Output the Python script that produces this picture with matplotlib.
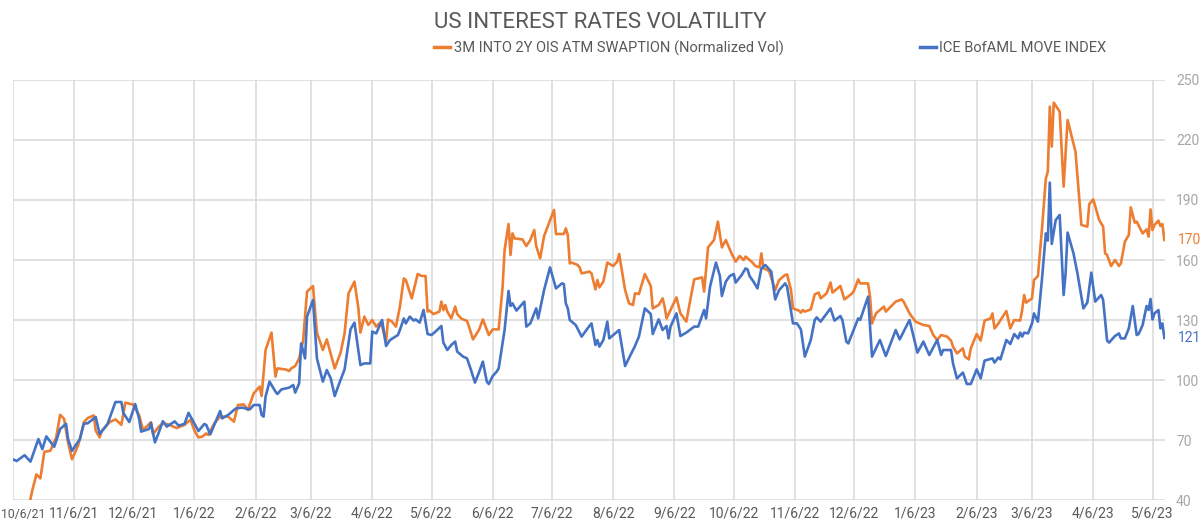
import numpy as np
import pandas as pd
import matplotlib
matplotlib.use("Agg")
import matplotlib.pyplot as plt
import matplotlib.dates as mdates
from matplotlib import font_manager as fm
from matplotlib.lines import Line2D

# ---------------- data ----------------
START = "2021-10-06"  # day offsets below are days since this date

swaption_day = [8, 10, 12, 14, 16, 19, 22, 24, 26, 28, 30, 33, 34, 36, 38, 41, 42, 44, 45, 49,
                52, 55, 56, 57, 60, 61, 64, 66, 70, 71, 74, 76, 79, 83, 87, 90, 92, 94, 96, 98,
                99, 102, 105, 109, 112, 114, 117, 119, 122, 125, 126, 128, 131, 133, 134, 138, 140, 141, 143, 145,
                147, 149, 152, 154, 157, 159, 163, 166, 168, 170, 173, 175, 176, 178, 180, 182, 184, 186, 187, 189,
                190, 192, 194, 196, 198, 199, 202, 205, 207, 209, 210, 211, 213, 216, 217, 218, 219, 220, 222, 224,
                225, 227, 230, 231, 233, 236, 238, 241, 243, 246, 248, 249, 251, 252, 253, 254, 258, 260, 262, 264,
                265, 267, 269, 274, 275, 279, 280, 281, 282, 283, 286, 287, 288, 292, 293, 295, 296, 297, 299, 301,
                304, 306, 307, 310, 312, 314, 315, 317, 320, 323, 324, 327, 329, 330, 331, 336, 338, 341, 343, 345,
                349, 350, 352, 355, 357, 359, 361, 363, 364, 366, 368, 370, 371, 374, 376, 378, 379, 380, 382, 383,
                386, 388, 391, 392, 394, 395, 398, 399, 400, 401, 404, 406, 408, 409, 411, 412, 414, 415, 419, 421,
                425, 426, 428, 429, 433, 434, 435, 437, 441, 442, 447, 450, 451, 454, 457, 461, 464, 466, 468, 470,
                473, 475, 476, 478, 481, 482, 484, 485, 488, 490, 492, 495, 496, 497, 499, 503, 505, 507, 510, 511,
                512, 513, 516, 517, 519, 521, 523, 524, 525, 526, 527, 530, 532, 534, 538, 541, 544, 545, 547, 550,
                552, 553, 554, 556, 558, 560, 561, 563, 565, 566, 568, 569, 572, 574, 575, 576, 577, 578, 580, 581,
                582, 583]
swaption_vol = [36, 45.2, 52.8, 50.8, 64.1, 64.6, 71.3, 82.6, 80.6, 68.8, 60.4, 67.1, 70.5, 78.9, 81, 82.3, 74.7, 71.3, 74.4, 78.9,
                80.3, 77.6, 83.1, 88.7, 87.9, 87.7, 82.3, 75, 78.9, 73, 76.7, 78.4, 77.7, 76, 77.6, 80.1, 74.7, 71.3, 71.7, 73.3,
                72.5, 78.3, 81.7, 81.7, 79.2, 87.5, 87.8, 85, 93.3, 96.7, 92, 115, 123.7, 101.7, 105.8, 105.3, 104.5, 105.8, 107, 110.8,
                119.7, 144.2, 147, 123.7, 115, 120.3, 105.8, 113.7, 123.3, 143.3, 149.2, 135.8, 123.7, 131.7, 127.5, 130, 126.7, 128.7, 126.7, 119.2,
                130.3, 129.2, 126.7, 136.7, 150.8, 150, 140.8, 153, 152, 152, 134.2, 134.7, 133, 134.2, 139.2, 135, 137.5, 134.2, 130.8, 136.7,
                133, 130.8, 129.5, 126.7, 120.3, 125, 130.3, 122.5, 125.3, 125.3, 146.7, 165, 178, 162.5, 173.3, 170.8, 170.3, 167, 170, 175,
                167, 160.8, 172, 185, 173, 173, 175.8, 172.5, 158.3, 158.7, 157.5, 156.3, 153.3, 154.2, 153.3, 145.3, 150, 146.3, 149.2, 158.7,
                157, 159.2, 163, 145, 138.3, 137.5, 143.3, 143, 153, 147, 135.8, 137.5, 140.8, 136.7, 130.8, 141.3, 133.3, 129.2, 140, 150.3,
                151.3, 144.2, 166.3, 170, 179.2, 166.3, 170, 165.3, 163, 159.2, 162, 160, 161.7, 159.2, 157, 156.3, 163.3, 155.8, 155, 154.2,
                145, 150, 152.5, 152.8, 145, 135.8, 134.7, 133.7, 135, 134.2, 135.3, 142.8, 143.7, 140.8, 142.5, 143.3, 148.7, 143.7, 147, 140.3,
                143.3, 145, 150.3, 148.3, 148.3, 141.7, 128.3, 133.3, 136.7, 134.2, 139.2, 140.3, 139.2, 133.3, 129.2, 127.5, 127, 122.5, 120, 122.5,
                121.7, 119.7, 116.7, 113.3, 115.8, 111.7, 110.3, 115.8, 123, 119.7, 129.7, 130.8, 133.3, 125.8, 128.3, 134.5, 125.8, 130, 129.7, 135,
                142.5, 138.7, 140.8, 150, 152, 175, 200.8, 204.2, 236.7, 216.7, 238.7, 234.2, 196.7, 230, 214.2, 177.5, 176.7, 188, 190.3, 180,
                176.7, 163.3, 162.5, 157, 160, 157, 158.3, 169.2, 172.5, 186.3, 178.7, 179.2, 173.3, 175.3, 171.7, 185.3, 175, 177.5, 179.7, 177,
                178, 170]

move_day = [0, 2, 6, 9, 13, 15, 17, 21, 24, 27, 28, 30, 34, 36, 38, 42, 44, 48, 52, 55,
            56, 59, 62, 64, 65, 69, 70, 72, 74, 76, 78, 82, 84, 87, 89, 92, 94, 97, 98, 100,
            102, 105, 106, 109, 113, 116, 120, 122, 125, 126, 127, 128, 130, 133, 134, 136, 140, 142, 143, 145,
            146, 148, 149, 152, 154, 157, 159, 161, 163, 165, 168, 171, 173, 176, 178, 181, 182, 184, 187, 189,
            191, 195, 196, 198, 199, 201, 203, 204, 206, 208, 210, 212, 214, 217, 218, 220, 222, 224, 225, 228,
            230, 232, 234, 236, 238, 240, 241, 243, 245, 246, 249, 251, 252, 253, 255, 259, 260, 262, 265, 266,
            269, 272, 275, 278, 279, 280, 281, 282, 285, 288, 291, 293, 295, 296, 297, 299, 301, 302, 304, 307,
            310, 315, 317, 320, 323, 324, 327, 329, 331, 332, 333, 336, 338, 341, 345, 347, 350, 351, 353, 356,
            358, 359, 361, 363, 365, 366, 369, 371, 372, 373, 375, 377, 379, 381, 384, 386, 388, 391, 392, 395,
            397, 399, 401, 404, 406, 407, 409, 414, 416, 419, 420, 422, 423, 428, 429, 433, 435, 439, 442, 447,
            449, 454, 458, 461, 464, 468, 470, 471, 475, 476, 478, 481, 483, 485, 488, 490, 492, 496, 497, 499,
            500, 503, 505, 507, 509, 510, 511, 512, 514, 516, 517, 519, 521, 523, 524, 525, 526, 528, 530, 532,
            533, 534, 537, 539, 542, 544, 546, 548, 551, 552, 554, 555, 558, 560, 561, 563, 565, 567, 569, 570,
            572, 574, 575, 576, 577, 578, 580, 581, 582, 583]
move_index = [60.4, 59.5, 62.4, 59.2, 70.5, 65.4, 71.8, 66.6, 75.5, 78.1, 70.5, 64.6, 70.5, 78.1, 78.4, 81.5, 73, 78, 89, 89,
              83.5, 79, 88, 80.6, 74.2, 75.5, 78.4, 68.8, 73.9, 79.4, 76.7, 79.3, 77.2, 78.1, 83.6, 78.1, 74.5, 78, 77.5, 72.8,
              77.5, 84.5, 80.8, 82.5, 85.8, 86.2, 85.3, 87.5, 87.5, 82.5, 81.7, 91.7, 99.2, 94.2, 93, 95.3, 96.2, 97.5, 93.7, 98.3,
              118.3, 110.8, 131.7, 140, 110.8, 99.2, 105, 100.8, 92, 97.5, 105.3, 125.3, 128.7, 107.5, 108.3, 108.3, 124.2, 123.3, 130, 117,
              120, 122.5, 125, 130.8, 128.3, 131.7, 129.7, 130.3, 128.7, 135, 123, 122.5, 124.2, 127, 118.7, 115, 117.5, 119.2, 114.2, 111.7,
              110.8, 105, 98.7, 103.7, 109.2, 99.2, 98, 102, 104.2, 105.8, 125, 144.5, 137, 138.3, 134.7, 139.2, 126.7, 128.3, 135.8, 130.8,
              145, 156.3, 145.8, 148.3, 148, 138.3, 135.8, 130, 127.5, 121.7, 125.8, 128.3, 117.5, 120, 116.7, 120, 129.2, 120.8, 122.5, 125,
              107, 117, 121.7, 135.8, 133, 123, 130.3, 125, 127, 120.8, 126.7, 133.3, 122, 123.7, 126.7, 126.7, 135, 130.8, 146.7, 158.7,
              152, 142, 149.2, 152, 153, 148.7, 152.5, 155.8, 155.3, 152, 149.2, 145.8, 155.8, 157.5, 154.2, 140.3, 145, 148.3, 146.7, 128.3,
              128.3, 125.3, 111.7, 120, 130, 131.3, 129.2, 135.8, 129.7, 132, 130, 119.2, 118.3, 130.8, 130, 141.7, 111.7, 120, 112, 125,
              120.3, 130, 113.7, 119.2, 112.5, 120, 112.5, 115, 115, 108.3, 100.8, 103.7, 98, 98, 105.3, 100.8, 109.7, 110.8, 108.7, 111.3,
              110.3, 120, 118, 123, 120.8, 123.7, 121.7, 123.7, 123.3, 128.3, 133.3, 129.2, 150, 173.3, 169.7, 198.7, 168, 180, 182.5, 142.5,
              153.3, 173.7, 163.3, 153.3, 135.8, 138.7, 153.7, 139.2, 142.5, 140, 119.7, 118.7, 122, 123.3, 120.8, 120.8, 125.8, 137, 122.5, 123,
              127.5, 137, 135, 140.5, 130.3, 133.3, 135, 125.8, 128.3, 121]

series_names = ["3M INTO 2Y OIS ATM SWAPTION (Normalized Vol)", "ICE BofAML MOVE INDEX"]
title = "US INTEREST RATES VOLATILITY"
tick_dates = pd.date_range("2021-10-01", "2023-05-01", freq="MS") + pd.Timedelta(days=5)
tick_labels = [f"{d.month}/{d.day}/{d.strftime('%y')}" for d in tick_dates]
y_ticks = [40, 70, 100, 130, 160, 190, 220, 250]

# ---------------- styling ----------------
ORANGE = "#ED7D31"
BLUE = "#4472C4"
GRID = "#D9D9D9"
TXT = "#595959"
YTXT = "#A6A6A6"

avail = {f.name for f in fm.fontManager.ttflist}
fam = "DejaVu Sans"
for cand in ["Liberation Sans Narrow", "Roboto", "Liberation Sans"]:
    if cand in avail:
        fam = cand
        break
plt.rcParams["font.family"] = [fam, "DejaVu Sans"]

start = pd.Timestamp(START)
sw_dates = start + pd.to_timedelta(swaption_day, unit="D")
mv_dates = start + pd.to_timedelta(move_day, unit="D")

fig = plt.figure(figsize=(12, 5.28), dpi=100)
ax = fig.add_axes([0.0106, 0.053, 0.9602, 0.7955])

ax.plot(sw_dates, swaption_vol, color=ORANGE, lw=1.9, solid_joinstyle="round", zorder=3)
ax.plot(mv_dates, move_index, color=BLUE, lw=1.9, solid_joinstyle="round", zorder=4)

ax.set_xlim(start, start + pd.Timedelta(days=583.3))
ax.set_ylim(40, 250)
ax.set_yticks(y_ticks)
ax.set_xticks(tick_dates)
# first label sits at the left edge of the figure: draw it left-aligned so it is not cut
ax.set_xticklabels([""] + tick_labels[1:])
ax.annotate(tick_labels[0], xy=(mdates.date2num(tick_dates[0]), 0), xycoords=ax.get_xaxis_transform(),
            xytext=(-8.6, -5.5), textcoords="offset points", ha="left", va="top",
            fontsize=8.8, color=TXT, annotation_clip=False)
ax.yaxis.tick_right()
ax.tick_params(axis="y", length=0, pad=8, labelsize=10, labelcolor=YTXT)
ax.tick_params(axis="x", length=0, pad=5, labelsize=10, labelcolor=TXT)
ax.grid(True, color=GRID, lw=1.1)
ax.set_axisbelow(True)
for s in ax.spines.values():
    s.set_visible(False)

# end-of-series value labels
ax.annotate(f"{swaption_vol[-1]:.0f}", xy=(sw_dates[-1], swaption_vol[-1]), xytext=(10, 0),
            textcoords="offset points", color=ORANGE, fontsize=10, va="center", ha="left",
            annotation_clip=False)
ax.annotate(f"{move_index[-1]:.0f}", xy=(mv_dates[-1], move_index[-1]), xytext=(10, 0),
            textcoords="offset points", color=BLUE, fontsize=10, va="center", ha="left",
            annotation_clip=False)

fig.text(0.5, 0.958, title, ha="center", va="center", fontsize=16, color=TXT)

handles = [Line2D([0], [0], color=ORANGE, lw=2.5), Line2D([0], [0], color=BLUE, lw=2.5)]
fig.legend(handles, series_names, ncol=2, loc="center", bbox_to_anchor=(0.642, 0.909),
           frameon=False, fontsize=10.5, labelcolor=TXT, handlelength=1.1, handletextpad=0.25,
           columnspacing=9.3)

fig.savefig("out.png", dpi=100)
